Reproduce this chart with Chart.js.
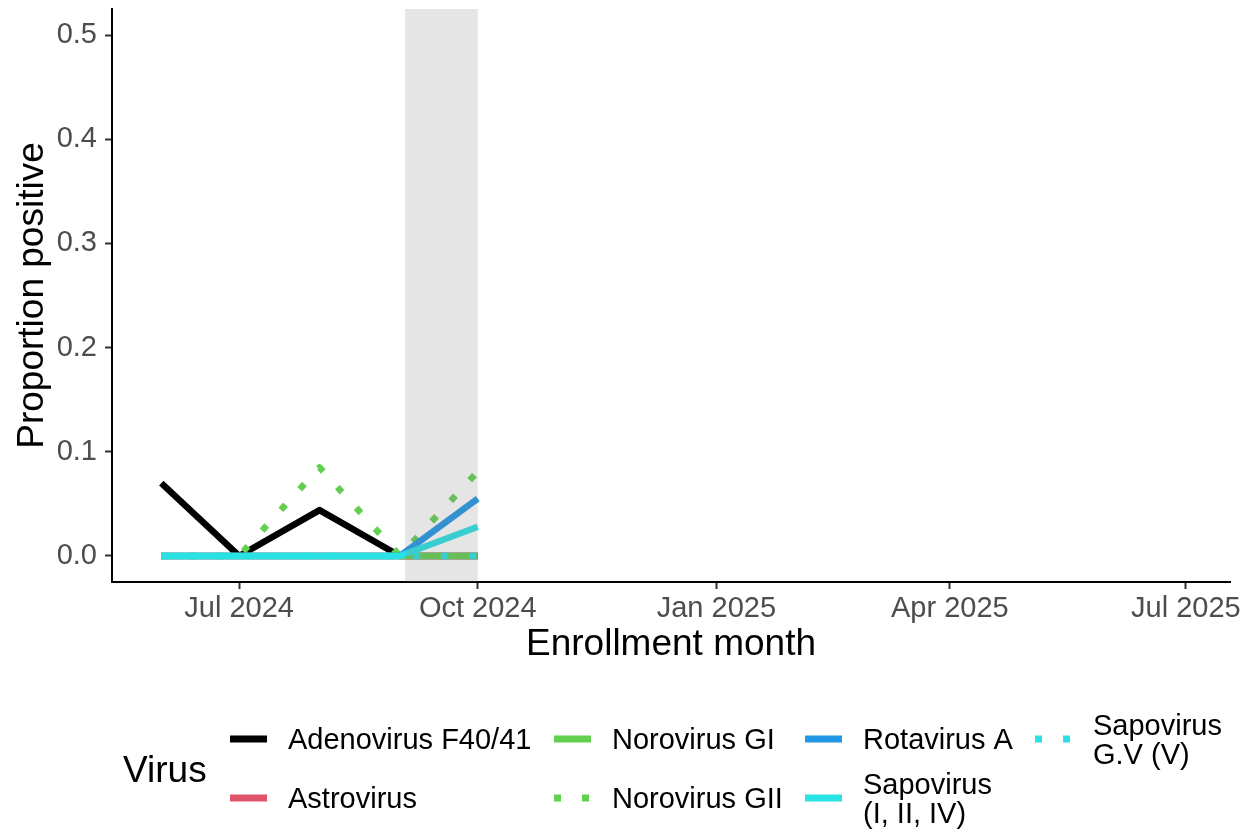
<!DOCTYPE html>
<html>
<head>
<meta charset="utf-8">
<script src="https://cdn.jsdelivr.net/npm/chart.js@4.4.1/dist/chart.umd.min.js"></script>
<style>
  html, body { margin: 0; padding: 0; background: #ffffff; }
  canvas { display: block; }
</style>
</head>
<body>
<canvas id="chart" width="1252" height="835"></canvas>
<script>
// data (proportion positive per enrollment month)
const months = ["2024-06-01", "2024-07-01", "2024-08-01", "2024-09-01", "2024-10-01"];
const adenovirus = [0.070, 0, 0.044, 0, 0];
const astrovirus = [0, 0, 0, 0, 0];
const norovirusGI = [0, 0, 0, 0, 0];
const norovirusGII = [0, 0, 0.085, 0, 0.081];
const rotavirusA = [0, 0, 0, 0, 0.055];
const sapovirusI = [0, 0, 0, 0, 0.028];
const sapovirusGV = [0, 0, 0, 0, 0];

const xTicks = ["2024-07-01", "2024-10-01", "2025-01-01", "2025-04-01", "2025-07-01"];
const xTickLabels = ["Jul 2024", "Oct 2024", "Jan 2025", "Apr 2025", "Jul 2025"];
const yTicks = [0, 0.1, 0.2, 0.3, 0.4, 0.5];
const yTickLabels = ["0.0", "0.1", "0.2", "0.3", "0.4", "0.5"];

const xMin = "2024-05-13";
const xMax = "2025-07-18";
const shadeStart = "2024-09-03";
const shadeEnd = "2024-10-01";

const FONT = "'Liberation Sans', Arial, Helvetica, sans-serif";

// dates -> day numbers, since there is no date adapter
function day(s) {
  const p = s.split("-").map(Number);
  return Date.UTC(p[0], p[1] - 1, p[2]) / 86400000;
}

function series(values) {
  return values.map((v, i) => ({ x: day(months[i]), y: v }));
}

const DOTS = [7, 21];

const viruses = [
  { label: ["Adenovirus F40/41"], data: adenovirus, color: "#000000", dash: [] },
  { label: ["Astrovirus"], data: astrovirus, color: "#DF536B", dash: [] },
  { label: ["Norovirus GI"], data: norovirusGI, color: "#61D04F", dash: [] },
  { label: ["Norovirus GII"], data: norovirusGII, color: "#61D04F", dash: DOTS },
  { label: ["Rotavirus A"], data: rotavirusA, color: "#2297E6", dash: [] },
  { label: ["Sapovirus", "(I, II, IV)"], data: sapovirusI, color: "#28E2E5", dash: [] },
  { label: ["Sapovirus", "G.V (V)"], data: sapovirusGV, color: "#28E2E5", dash: DOTS }
];

const shadePlugin = {
  id: "shade",
  afterDatasetsDraw(chart) {
    const { ctx, chartArea, scales } = chart;
    const x0 = scales.x.getPixelForValue(day(shadeStart));
    const x1 = scales.x.getPixelForValue(day(shadeEnd));
    ctx.save();
    ctx.fillStyle = "rgba(127,127,127,0.2)";
    ctx.fillRect(x0, chartArea.top, x1 - x0, chartArea.bottom - chartArea.top);
    ctx.restore();
  }
};

// legend laid out like the ggplot one: 4 columns, 2 rows, filled by column
const legendPlugin = {
  id: "virusLegend",
  afterDraw(chart) {
    const ctx = chart.ctx;
    const keyX = [230, 554, 805, 1035];
    const rowY = [739, 798];
    ctx.save();
    ctx.fillStyle = "#000000";
    ctx.font = "37px " + FONT;
    ctx.textBaseline = "alphabetic";
    ctx.fillText("Virus", 123, 782);
    ctx.font = "29px " + FONT;
    viruses.forEach((v, i) => {
      const col = Math.floor(i / 2);
      const row = i % 2;
      const kx = keyX[col];
      const ky = rowY[row];
      ctx.strokeStyle = v.color;
      ctx.lineWidth = 7;
      ctx.lineCap = "butt";
      ctx.setLineDash(v.dash);
      ctx.beginPath();
      ctx.moveTo(kx, ky);
      ctx.lineTo(kx + 37, ky);
      ctx.stroke();
      ctx.setLineDash([]);
      const n = v.label.length;
      v.label.forEach((line, j) => {
        const cy = ky + (j - (n - 1) / 2) * 29;
        ctx.fillText(line, kx + 58, cy + 10);
      });
    });
    ctx.restore();
  }
};

function noPad(scale) {
  scale.paddingLeft = 0;
  scale.paddingRight = 0;
  scale.paddingTop = 0;
  scale.paddingBottom = 0;
}

new Chart(document.getElementById("chart"), {
  type: "line",
  data: {
    datasets: viruses.map((v, i) => ({
      label: v.label.join(" "),
      data: series(v.data),
      borderColor: v.color,
      backgroundColor: v.color,
      borderWidth: 6.5,
      borderDash: v.dash,
      borderCapStyle: "butt",
      borderJoinStyle: "round",
      pointRadius: 0,
      tension: 0,
      fill: false,
      order: -i
    }))
  },
  options: {
    responsive: false,
    animation: false,
    events: [],
    layout: { padding: { top: 9, right: 22, bottom: 164, left: 0 } },
    plugins: {
      legend: { display: false },
      tooltip: { enabled: false }
    },
    scales: {
      x: {
        type: "linear",
        min: day(xMin),
        max: day(xMax),
        afterBuildTicks(scale) {
          scale.ticks = xTicks.map(d => ({ value: day(d) }));
        },
        afterFit(scale) {
          scale.height = 89;
          noPad(scale);
        },
        ticks: {
          autoSkip: false,
          maxRotation: 0,
          padding: 3,
          color: "#4D4D4D",
          font: { family: FONT, size: 29 },
          callback: (v, i) => xTickLabels[i]
        },
        grid: {
          display: true,
          drawOnChartArea: false,
          drawTicks: true,
          tickLength: 7,
          tickWidth: 2,
          tickColor: "#333333"
        },
        border: { display: true, color: "#000000", width: 2 },
        title: {
          display: true,
          text: "Enrollment month",
          color: "#000000",
          font: { family: FONT, size: 37 },
          padding: { top: 0, bottom: 4 }
        }
      },
      y: {
        type: "linear",
        min: -0.025,
        max: 0.525,
        afterBuildTicks(scale) {
          scale.ticks = yTicks.map(v => ({ value: v }));
        },
        afterFit(scale) {
          scale.width = 112;
          noPad(scale);
        },
        ticks: {
          padding: 8,
          color: "#4D4D4D",
          font: { family: FONT, size: 29 },
          callback: (v, i) => yTickLabels[i]
        },
        grid: {
          display: true,
          drawOnChartArea: false,
          drawTicks: true,
          tickLength: 7,
          tickWidth: 2,
          tickColor: "#333333"
        },
        border: { display: true, color: "#000000", width: 2 },
        title: {
          display: true,
          text: "Proportion positive",
          color: "#000000",
          font: { family: FONT, size: 37 },
          padding: { top: 11, bottom: 0 }
        }
      }
    }
  },
  plugins: [shadePlugin, legendPlugin]
});
</script>
</body>
</html>
